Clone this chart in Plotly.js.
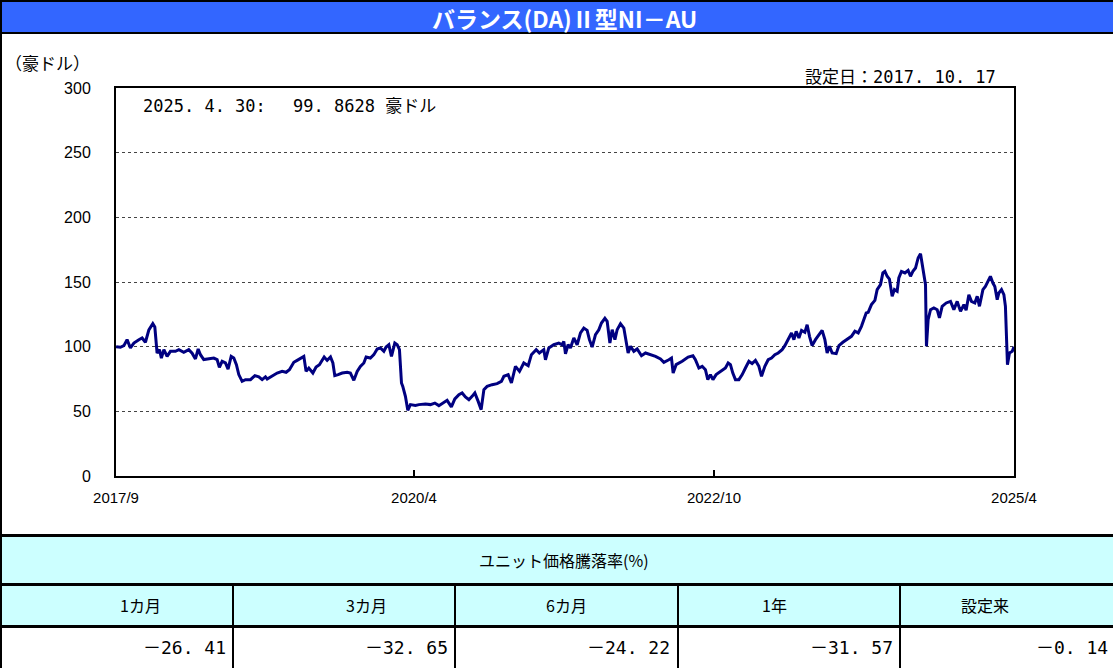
<!DOCTYPE html>
<html><head><meta charset="utf-8">
<script src="https://cdn.plot.ly/plotly-3.0.1.min.js"></script>
<style>html,body{margin:0;padding:0;background:#fff;overflow:hidden}</style>
</head><body><div id="chart" style="width:1113px;height:668px"></div>
<script>
// ---- data ----
const years = [2017.79,2017.826,2017.855,2017.882,2017.910,2017.939,2017.981,2018.008,2018.036,2018.065,2018.098,2018.115,2018.134,2018.154,2018.170,2018.191,2018.218,2018.246,2018.288,2018.317,2018.358,2018.400,2018.428,2018.456,2018.479,2018.498,2018.526,2018.568,2018.610,2018.638,2018.657,2018.680,2018.708,2018.730,2018.756,2018.778,2018.800,2018.820,2018.848,2018.876,2018.918,2018.955,2018.988,2019.016,2019.044,
2019.058,2019.100,2019.142,2019.184,2019.217,2019.245,2019.282,2019.310,2019.338,2019.366,2019.385,2019.408,2019.442,2019.469,2019.497,2019.520,2019.537,2019.562,2019.590,2019.610,2019.626,2019.654,2019.688,2019.730,2019.757,2019.786,2019.814,2019.841,2019.870,2019.889,2019.925,2019.954,2019.982,2020.009,2020.038,2020.057,2020.080,2020.102,2020.130,2020.150,2020.169,2020.186,2020.197,2020.219,2020.239,2020.261,2020.303,
2020.332,2020.387,2020.429,2020.466,2020.500,2020.542,2020.569,2020.605,2020.634,2020.668,2020.695,2020.723,2020.752,2020.779,2020.802,2020.830,2020.855,2020.878,2020.905,2020.947,2020.989,2021.025,2021.046,2021.082,2021.109,2021.143,2021.177,2021.213,2021.250,2021.277,2021.317,2021.344,2021.381,2021.395,2021.423,2021.465,2021.507,2021.535,2021.549,2021.563,
2021.585,2021.605,2021.633,2021.661,2021.689,2021.717,2021.745,2021.764,2021.787,2021.815,2021.843,2021.865,2021.894,2021.913,2021.936,2021.955,2021.978,2021.997,2022.025,2022.053,2022.072,2022.089,2022.109,2022.137,2022.165,2022.201,2022.235,2022.277,2022.319,2022.361,2022.389,2022.431,2022.453,2022.467,2022.492,2022.543,2022.593,2022.633,2022.654,2022.683,2022.711,2022.738,2022.758,2022.780,2022.801,2022.828,
2022.879,2022.906,2022.929,2022.948,2022.968,2022.990,2023.019,2023.047,2023.074,2023.103,2023.130,2023.158,2023.187,2023.209,2023.237,2023.265,2023.293,2023.321,2023.349,2023.382,2023.405,2023.433,2023.461,2023.481,2023.500,2023.523,2023.545,2023.573,2023.592,2023.612,2023.634,2023.662,2023.691,2023.718,2023.741,2023.760,2023.780,2023.802,2023.836,2023.859,2023.892,2023.928,2023.964,2023.993,2024.021,2024.048,2024.068,2024.088,
2024.105,2024.132,2024.161,2024.180,2024.208,2024.228,2024.245,2024.264,2024.283,2024.306,2024.325,2024.348,2024.362,2024.384,2024.413,2024.440,2024.460,2024.480,2024.502,2024.524,2024.544,2024.558,2024.572,2024.586,2024.594,2024.608,2024.628,2024.656,2024.684,2024.703,2024.726,2024.760,2024.796,2024.824,2024.852,2024.880,2024.908,2024.927,2024.950,2024.972,2025.000,2025.020,2025.039,2025.068,2025.089,2025.112,2025.131,2025.152,2025.168,2025.188,2025.202,2025.224,2025.244,2025.257,2025.269,2025.274,2025.291,2025.314,2025.329];
const unitPrice = [100,99.5,100.8,105.4,99,102.8,105.4,106.7,103.4,113,117.8,115.2,95,97.7,91.2,97.7,92.5,96.4,96.4,97.7,95.6,97.7,95,90.5,98.2,93.8,90,90.5,91.2,90,84,88.7,87.4,82.7,92.5,91.2,86,78.4,73.2,74.5,74.5,77.6,76.6,74.5,76.6,
75,77.6,79.6,80.9,80.2,82.2,87.9,89.4,91.2,92.5,80.9,83.5,79.6,84.3,86,90,92,89.4,92,87.4,77.6,78.4,79.6,80.2,79.6,74,80.9,84.8,87.4,92,91.2,93.8,98.2,99,96.4,99.7,101.5,92.5,102.8,101.5,97.7,71.9,69.3,61.6,50.8,55.2,54.6,
55.2,55.7,55.2,56.4,54.4,57,58.5,53.4,59.6,62.9,64.2,61.1,59,61.6,64.2,57.7,51.3,66.8,69.3,70.6,71.4,73.2,77.1,78.4,71.9,84.8,80.9,87.4,85.3,93.8,97.7,95.1,97.7,89.9,99,101.5,102.8,101.5,104.1,94.5,
101.5,99,106.7,101.5,110.6,114.4,112.6,105.4,99.7,109.3,113.1,118.3,121.9,119.6,102.8,113.1,105.4,113.1,117.8,114.4,105.4,95.1,100.3,96.4,98.2,93,95.1,93.8,92.5,90.5,87.9,89.9,91.2,79.6,86.1,88.7,92,93,89.9,83.5,84.8,82.2,74.5,78.4,74.5,78.4,
82.2,83.5,87.4,86.1,79.6,74.5,74.5,78.4,83.5,88.7,86.9,89.4,84.8,77.1,84.8,89.9,91.2,93.8,95.1,97.7,100.8,105.4,110.6,105.4,111.9,106.7,112.6,111.1,117,108,100.8,105.4,109.3,112.6,105.4,95.1,100.3,95.1,94.6,100.8,103.4,105.9,108,111.9,110.6,115.7,121.5,126,
126.5,132.5,135.8,144.1,148,157,158.2,154.4,152.3,138.9,144.1,142.8,153.1,158.2,157,159,154.4,158.2,160.8,168.6,171.9,163.4,158.2,147.9,100.3,120.9,128.6,129.9,128.6,122.2,131.2,133.8,135,128.6,135,127.3,132.5,128.1,140.2,135,133.8,139,131.2,144.1,146.6,150.5,154.4,149.2,146.6,136.3,141.5,144.1,140.2,131.2,100.3,86.1,95.1,96.4,99.8628];
const yTickVals = [0,50,100,150,200,250,300];
const xTickVals = [2017.789,2020.291,2022.810,2025.329];
const xTickText = ['2017/9','2020/4','2022/10','2025/4'];
const periodLabels = ['1カ月','3カ月','6カ月','1年','設定来'];
const periodReturns = [-26.41,-32.65,-24.22,-31.57,-0.14];
const fundTitle = 'バランス(DA)Ⅱ型NI－AU';
const unitLabel = '（豪ドル）';
const inceptionText = '設定日：2017. 10. 17';
const latestText = '2025. 4. 30:　 99. 8628 豪ドル';
const tableTitle = 'ユニット価格騰落率(%)';

// ---- layout helpers (pixel -> paper) ----
const W = 1113, H = 668;
const px = x => x / W, py = y => 1 - y / H;
const JP = '"Noto Sans CJK JP", "Noto Sans", sans-serif';
const MONO = '"DejaVu Sans Mono", "Noto Sans CJK JP", monospace';

function rect(x0, y0, x1, y1, color) {
  return {type:'rect', xref:'paper', yref:'paper', x0:px(x0), x1:px(x1), y0:py(y1), y1:py(y0),
          fillcolor:color, line:{width:0}, layer:'below'};
}
const shapes = [
  rect(0, 0, 1113, 2, '#000'),
  rect(2, 2, 1113, 32, '#3366FF'),
  rect(0, 32, 1113, 34, '#000'),
  rect(0, 0, 2, 668, '#000'),
  rect(0, 534, 1113, 537, '#000'),
  rect(2, 537, 1113, 583, '#CCFFFF'),
  rect(0, 583, 1113, 586, '#000'),
  rect(2, 586, 1113, 625, '#CCFFFF'),
  rect(0, 625, 1113, 628, '#000')
];
const colEdges = [2, 233, 455, 678, 900, 1122];
for (let i = 1; i < colEdges.length - 1; i++) shapes.push(rect(colEdges[i]-1, 584, colEdges[i]+1, 668, '#000'));

const annotations = [
  {text:fundTitle, x:px(564), y:py(18), font:{family:JP, size:23, color:'#fff', weight:'bold'}},
  {text:unitLabel, x:px(3), y:py(63), xanchor:'left', font:{family:JP, size:17, color:'#000'}},
  {text:inceptionText, x:px(998), y:py(77), xanchor:'right', font:{family:MONO, size:17, color:'#000'}},
  {text:latestText, x:px(141), y:py(106), xanchor:'left', font:{family:MONO, size:17, color:'#000'}},
  {text:tableTitle, x:px(564), y:py(560), font:{family:JP, size:16, color:'#000'}}
];
const valueRight = [228, 450, 672, 895, 1110];
periodLabels.forEach((lab, i) => {
  annotations.push({text:lab, x:px((colEdges[i]+colEdges[i+1])/2), y:py(605),
    font:{family:JP, size:16, color:'#000'}});
  const v = periodReturns[i];
  const s = (v < 0 ? '－' : '') + Math.abs(v).toFixed(2).replace('.', '. ');
  annotations.push({text:s, x:px(valueRight[i]), y:py(647), xanchor:'right',
    font:{family:MONO, size:18, color:'#000'}});
});
annotations.forEach(a => { a.xref='paper'; a.yref='paper'; a.showarrow=false; if(!a.yanchor) a.yanchor='middle'; });

const trace = {x:years, y:unitPrice, type:'scatter', mode:'lines',
  line:{color:'#000080', width:3}, hoverinfo:'skip'};

const layout = {
  width:W, height:H, margin:{l:0, r:0, t:0, b:0},
  paper_bgcolor:'#fff', plot_bgcolor:'#fff', showlegend:false,
  xaxis:{domain:[px(116), px(1014)], range:[2017.789, 2025.329], tickvals:xTickVals, ticktext:xTickText,
    showgrid:false, zeroline:false, showline:true, linecolor:'#000', linewidth:2, mirror:true,
    ticks:'inside', ticklen:6, tickwidth:1.5, tickcolor:'#000', ticklabelstandoff:7,
    tickfont:{family:'"Liberation Sans", Arial, sans-serif', size:15, color:'#000'}},
  yaxis:{domain:[py(476), py(88)], range:[0, 300], tickvals:yTickVals,
    showgrid:true, gridcolor:'#444', griddash:'dot', gridwidth:1, zeroline:false,
    showline:true, linecolor:'#000', linewidth:2, mirror:true, ticks:'', ticklabelstandoff:20,
    tickfont:{family:'"Liberation Sans", Arial, sans-serif', size:16, color:'#000'}},
  shapes:shapes, annotations:annotations
};
Plotly.newPlot('chart', [trace], layout, {staticPlot:true, displayModeBar:false});
</script></body></html>
